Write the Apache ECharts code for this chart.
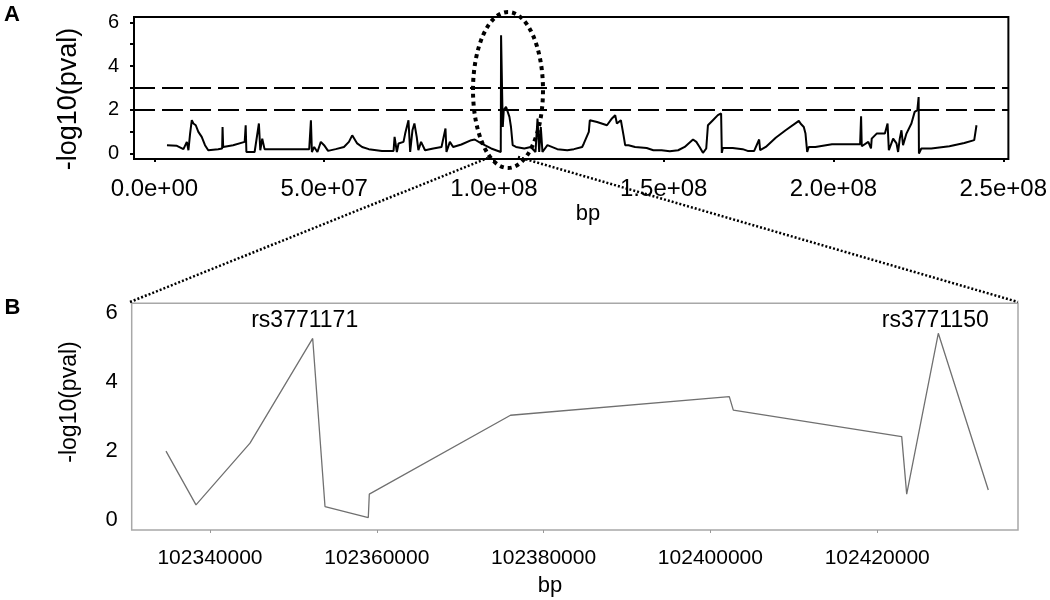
<!DOCTYPE html>
<html><head><meta charset="utf-8">
<script src="https://cdn.jsdelivr.net/npm/echarts@6/dist/echarts.min.js"></script>
<style>html,body{margin:0;padding:0;background:#fff}#c{width:1050px;height:600px}</style>
</head><body><div id="c"></div>
<script>
// ---------- Panel A : genome-wide scan (position in Mb, -log10 p) ----------
const aPosMb = [3.71,6.64,8.56,9.06,9.56,10.03,10.52,11.02,11.49,12.19,
12.95,13.94,14.91,15.87,18.79,19.96,20.08,20.26,23.18,26.60,
26.89,27.10,29.52,30.78,31.19,31.77,32.45,38.79,45.60,46.10,
46.39,47.06,48.02,49.02,49.98,51.15,53.40,55.83,57.29,58.26,
59.72,61.18,63.14,67.02,70.44,70.74,71.41,71.91,73.37,73.86,
74.83,75.33,76.00,76.58,77.26,77.75,78.54,79.71,82.14,84.56,
85.73,86.02,87.02,87.98,90.41,93.33,94.33,96.25,99.18,102.01,
102.10,102.60,102.89,103.56,104.56,105.02,105.52,106.49,108.94,110.87,
112.24,112.83,113.33,113.80,114.29,115.75,118.67,121.60,123.55,125.98,
126.48,127.94,128.23,130.37,133.29,134.75,135.71,136.21,137.38,138.17,
138.64,139.63,141.56,144.98,146.94,149.36,151.79,154.25,156.18,158.63,
159.60,160.56,161.55,162.52,163.02,164.48,165.94,166.90,167.11,167.40,
170.32,173.24,174.71,176.64,178.10,178.39,180.06,182.98,185.90,189.79,
190.28,191.25,191.75,192.25,192.71,194.67,199.55,207.83,208.12,208.32,
210.25,211.04,211.25,212.71,215.13,215.92,216.30,217.56,218.55,219.02,
219.52,220.01,220.48,221.48,222.94,223.90,224.69,225.07,225.16,225.86,
228.78,234.13,238.52,241.44,242.11];
const aLogP = [0.39,0.36,0.21,0.13,0.54,0.16,0.92,1.53,1.38,1.30,
1.00,0.77,0.39,0.16,0.21,0.24,1.22,0.31,0.39,0.54,
1.30,0.08,0.08,1.38,0.16,0.69,0.21,0.21,0.21,1.53,
0.08,0.31,0.08,0.54,0.39,0.13,0.21,0.31,0.54,0.84,
0.47,0.31,0.21,0.13,0.13,0.77,0.08,0.47,0.54,0.92,
1.53,0.08,1.07,1.38,0.77,0.16,0.54,0.16,0.24,0.31,
1.15,0.08,0.54,0.31,0.42,0.62,0.65,0.47,0.24,0.08,
5.41,1.22,1.99,2.14,1.68,1.22,0.39,0.31,0.24,0.31,
0.08,1.61,0.08,1.22,0.08,0.39,0.21,0.16,0.21,0.31,
0.47,1.00,1.53,1.45,1.30,1.61,1.76,1.38,1.53,0.84,
0.39,0.39,0.31,0.26,0.16,0.16,0.11,0.16,0.31,0.65,
0.54,0.31,0.04,0.24,1.30,1.53,1.76,1.84,0.04,0.26,
0.26,0.21,0.13,0.13,0.65,0.16,0.31,0.73,1.07,1.50,
1.38,1.22,0.92,0.08,0.31,0.31,0.43,0.43,1.71,0.34,
0.54,0.24,0.69,0.92,0.92,1.38,0.16,0.69,0.47,0.08,
0.69,1.07,0.39,0.92,1.38,1.91,1.99,2.59,0.01,0.24,
0.24,0.34,0.49,0.62,1.30];
const aThresholds = [2, 3];
const aXTicksMb = [0, 50, 100, 150, 200, 250];
const aYTicks = [0, 1, 2, 3, 4, 5, 6];
const aYLabels = [0, 2, 4, 6];

// ---------- Panel B : zoomed region (bp, -log10 p) ----------
const bPos = [102334724,102338321,102344796,102352314,102353789,102358981,102359101,
              102376031,102402266,102402746,102422938,102423537,102427326,102433321];
const bLogP = [2.00,0.44,2.23,5.27,0.39,0.07,0.75,3.04,3.58,3.19,2.42,0.75,5.42,0.87];
const bXTicks = [102340000,102360000,102380000,102400000,102420000];
const bYLabels = [0, 2, 4, 6];
const snpNames = ['rs3771171', 'rs3771150'];
const snpIndex = [3, 12];
const snpLabelLevel = 5.8;

const FONT = '"Liberation Sans", Arial, sans-serif';
const sciFmt = v => {
  const s = (v * 1e6).toExponential(1);
  return s.replace(/e([+-])(\d+)$/, (m, sg, d) => 'e' + sg + (d.length < 2 ? '0' + d : d));
};

const chart = echarts.init(document.getElementById('c'), null, {renderer: 'canvas'});
const snpOffsets = [[-8, 0], [-3, 0]];

const option = {
  animation: false,
  backgroundColor: '#fff',
  textStyle: {fontFamily: FONT},
  grid: [
    {left: 134, top: 17, width: 880, height: 142, show: true, borderColor: '#000', borderWidth: 2, backgroundColor: 'transparent'},
    {left: 131.7, top: 303.3, width: 886.3, height: 226.7, show: true, borderColor: '#a8a8a8', borderWidth: 1.5, backgroundColor: 'transparent'}
  ],
  xAxis: [
    {type: 'value', gridIndex: 0, min: -6, max: 251.5,
     axisLine: {show: false, onZero: false}, splitLine: {show: false},
     axisTick: {show: true, customValues: aXTicksMb, length: 3, lineStyle: {color: '#000', width: 2}},
     axisLabel: {customValues: aXTicksMb, formatter: sciFmt, fontSize: 24, color: '#000', margin: 18, fontFamily: FONT}},
    {type: 'value', gridIndex: 1, min: 102330612, max: 102436882,
     axisLine: {show: false, onZero: false}, splitLine: {show: false},
     axisTick: {show: true, customValues: bXTicks, length: 3, lineStyle: {color: '#999', width: 1}},
     axisLabel: {customValues: bXTicks, formatter: v => String(v), fontSize: 21, color: '#000', margin: 18, fontFamily: FONT}}
  ],
  yAxis: [
    {type: 'value', gridIndex: 0, min: -0.24, max: 6.24,
     axisLine: {show: false, onZero: false}, splitLine: {show: false},
     axisTick: {show: true, customValues: aYTicks, length: 4, lineStyle: {color: '#000', width: 2}},
     axisLabel: {customValues: aYLabels, fontSize: 20, color: '#000', margin: 15, fontFamily: FONT}},
    {type: 'value', gridIndex: 1, min: -0.29, max: 6.29,
     axisLine: {show: false, onZero: false}, splitLine: {show: false},
     axisTick: {show: false},
     axisLabel: {customValues: bYLabels, fontSize: 22, color: '#000', margin: 14, fontFamily: FONT}}
  ],
  series: [
    {type: 'line', xAxisIndex: 0, yAxisIndex: 0, symbol: 'none', silent: true,
     data: aPosMb.map((x, i) => [x, aLogP[i]]),
     lineStyle: {color: '#000', width: 2},
     markLine: {silent: true, symbol: ['none', 'none'], label: {show: false},
       lineStyle: {color: '#000', width: 2, type: [21, 7]},
       data: aThresholds.map(t => ({yAxis: t}))}},
    {type: 'line', xAxisIndex: 1, yAxisIndex: 1, symbol: 'none', silent: true,
     data: bPos.map((x, i) => [x, bLogP[i]]),
     lineStyle: {color: '#707070', width: 1.3}},
    {type: 'scatter', xAxisIndex: 1, yAxisIndex: 1, symbolSize: 0, silent: true,
     itemStyle: {opacity: 1},
     data: snpIndex.map((idx, k) => ({
       value: [bPos[idx], snpLabelLevel], name: snpNames[k],
       label: {show: true, position: 'inside', formatter: snpNames[k], offset: snpOffsets[k],
               fontSize: 23, color: '#000', opacity: 1, textBorderWidth: 0, textBorderColor: 'transparent', fontFamily: FONT}}))}
  ],
  graphic: [
    {type: 'text', x: 12, y: 15, style: {text: 'A', font: 'bold 22px ' + FONT, fill: '#000', align: 'center', verticalAlign: 'middle'}},
    {type: 'text', x: 12.5, y: 308, style: {text: 'B', font: 'bold 22px ' + FONT, fill: '#000', align: 'center', verticalAlign: 'middle'}},
    {type: 'text', x: 69, y: 99, rotation: Math.PI / 2, style: {text: '-log10(pval)', font: '27px ' + FONT, fill: '#000', align: 'center', verticalAlign: 'middle'}},
    {type: 'text', x: 70, y: 402, rotation: Math.PI / 2, style: {text: '-log10(pval)', font: '23px ' + FONT, fill: '#000', align: 'center', verticalAlign: 'middle'}},
    {type: 'text', x: 588, y: 214, style: {text: 'bp', font: '22px ' + FONT, fill: '#000', align: 'center', verticalAlign: 'middle'}},
    {type: 'text', x: 550, y: 586, style: {text: 'bp', font: '22px ' + FONT, fill: '#000', align: 'center', verticalAlign: 'middle'}},
    {type: 'ellipse', shape: {cx: 508, cy: 90, rx: 35, ry: 78}, style: {fill: 'none', stroke: '#000', lineWidth: 4, lineDash: [4, 4]}, z: 100},
    {type: 'line', shape: {x1: 130, y1: 302, x2: 488, y2: 158}, style: {stroke: '#000', lineWidth: 2.5, lineDash: [2, 2]}, z: 100},
    {type: 'line', shape: {x1: 518, y1: 157, x2: 1018, y2: 302}, style: {stroke: '#000', lineWidth: 2.5, lineDash: [2, 2]}, z: 100}
  ]
};
chart.setOption(option);
</script>
</body></html>
